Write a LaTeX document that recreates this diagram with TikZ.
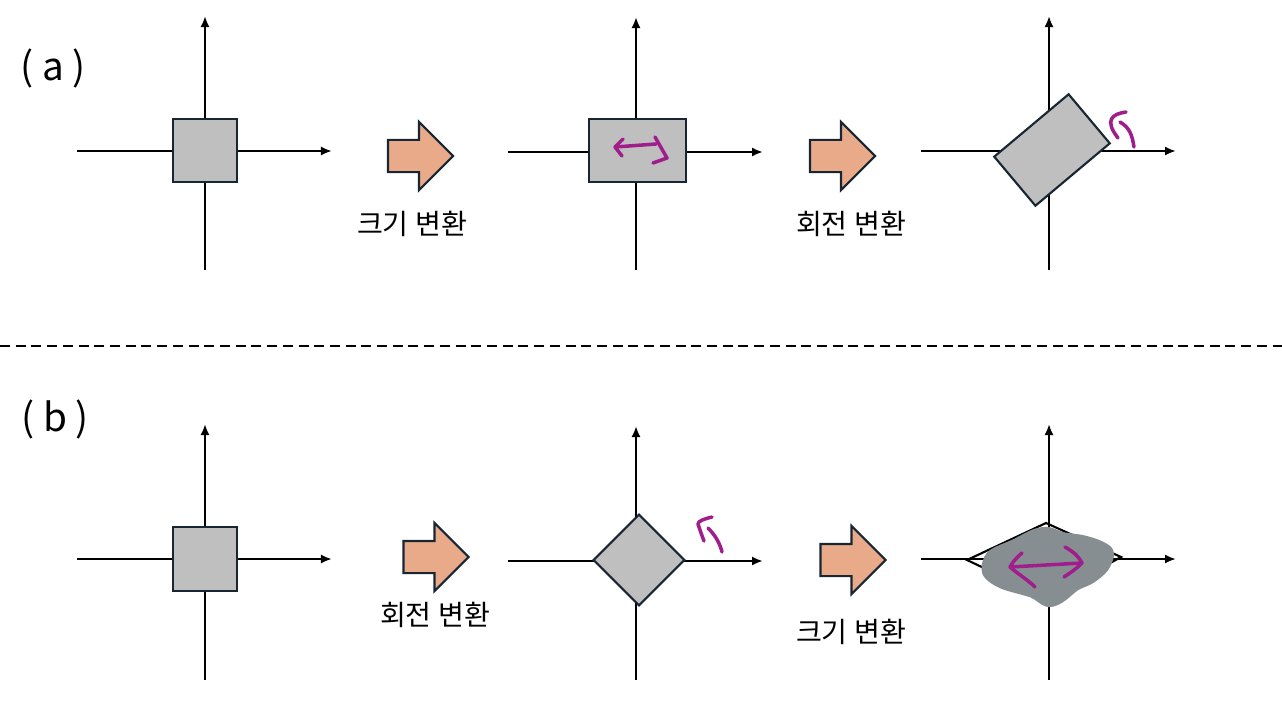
\documentclass[tikz,border=0pt]{standalone}
\usepackage{fontspec}
\setmainfont{Noto Sans CJK KR}
\usetikzlibrary{arrows.meta,shapes.arrows}
\definecolor{shapegray}{RGB}{191,191,191}
\definecolor{edgenavy}{RGB}{24,38,52}
\definecolor{peach}{RGB}{232,170,136}
\definecolor{ink}{RGB}{160,30,140}
\definecolor{smudge}{RGB}{134,142,145}

\begin{document}
\begin{tikzpicture}[x=0.01cm, y=-0.01cm,
  every node/.style={font=\fontsize{8}{10}\selectfont},
  ax/.style={-{Latex[length=0.11cm,width=0.09cm]}, line width=0.6pt},
  sq/.style={draw=edgenavy, fill=shapegray, line width=0.6pt, inner sep=0pt},
  blk/.style={single arrow, draw=edgenavy, fill=peach, line width=0.6pt, inner xsep=0pt, inner ysep=0.15cm, minimum height=0.65cm, single arrow head extend=0.18cm},
  pen/.style={draw=ink, line width=1pt, line cap=round, line join=round},
  hand/.style={font=\fontsize{11}{13}\selectfont}]

\useasboundingbox (0,0) rectangle (1282,718);

% ---------------- axes ----------------
\foreach \n/\x/\y/\d in {a1/205/151/119, a2/636/152/118, a3/1049/151/119, b1/205/559/121, b2/636/561/119, b3/1049/559/121}{
  \coordinate (\n W) at (\x-128,\y);
  \coordinate (\n E) at (\x+127,\y);
  \coordinate (\n S) at (\x,\y+\d);
  \coordinate (\n N) at (\x,\y-135);
  \draw[ax] (\n W) -- (\n E);
  \draw[ax] (\n S) -- (\n N);
}

% ---------------- row (a) ----------------
\node[hand] (la) at (53,68) {( a )};
\node[sq, minimum width=0.64cm, minimum height=0.63cm] (sqa) at (205,150.5) {};
\node[blk] (ra1) at (412.5,156) {};
\node (ta1) at (412,224) {크기 변환};
\node[sq, minimum width=0.97cm, minimum height=0.63cm] (rca) at (637.5,150.5) {};
\node[blk] (ra2) at (834.5,156) {};
\node (ta2) at (851,224) {회전 변환};
\node[sq, minimum width=0.97cm, minimum height=0.64cm, rotate=40] (rta) at (1052,150) {};

% pen marks
\draw[pen] (623,139) -- (615,147) -- (622,156);
\draw[pen] (615,147) -- (656,144);
\draw[pen] (655,137) -- (667,158) -- (653,163);
\draw[pen] (1126,112) .. controls (1112,114) and (1104,120) .. (1118,138);
\draw[pen] (1120,122) .. controls (1130,128) and (1132,135) .. (1134,147);

% ---------------- separator ----------------
\coordinate (sepL) at (0,346);
\coordinate (sepR) at (1282,346);
\draw[line width=0.6pt, dash pattern=on 0.1cm off 0.057cm] (sepL) -- (sepR);

% ---------------- row (b) ----------------
\node[hand] (lb) at (55,419) {( b )};
\node[sq, minimum size=0.64cm] (sqb) at (205,559) {};
\node[blk] (rb1) at (428,557) {};
\node (tb1) at (435,615) {회전 변환};
\node[sq, minimum size=0.64cm, rotate=45] (dmb) at (639,560) {};
\node[blk] (rb2) at (845,560) {};
\node (tb2) at (851,632) {크기 변환};
\draw[line width=0.6pt] (967,560) -- (1046,523) -- (1121,557) -- (1047,598) -- cycle;

% smudge over the stretched diamond
\draw[smudge, fill=smudge, line width=0.12cm, line join=round]
  plot[smooth cycle] coordinates {(988,572) (1003,583) (1033,592) (1048,601) (1060,597) (1075,585) (1090,578) (1103,567) (1108,553) (1098,546) (1082,541) (1062,538) (1048,533) (1035,535) (1015,545) (992,556)};

% pen marks
\draw[pen] (712,517) .. controls (704,519) and (698,521) .. (698,524) .. controls (700,530) and (702,536) .. (704,541);
\draw[pen] (708,528) .. controls (716,536) and (720,544) .. (722,552);
\draw[pen] (1022,553) .. controls (1016,558) and (1012,563) .. (1010,567) .. controls (1018,574) and (1028,580) .. (1035,587);
\draw[pen] (1010,567) -- (1082,563);
\draw[pen] (1065,547) .. controls (1074,552) and (1079,557) .. (1082,563) .. controls (1076,569) and (1070,573) .. (1064,577);
\end{tikzpicture}
\end{document}
